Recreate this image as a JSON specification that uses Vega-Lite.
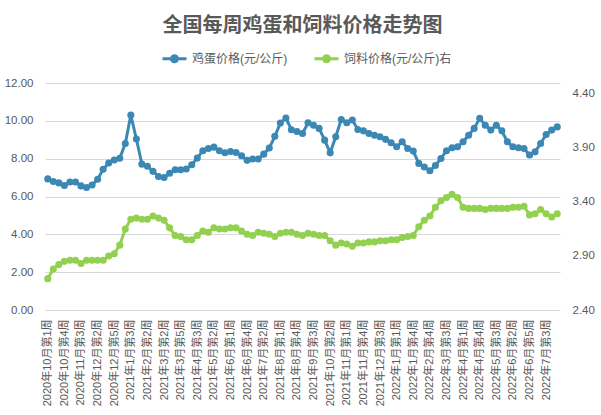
{
  "$schema": "https://vega.github.io/schema/vega-lite/v6.json",
  "width": 515,
  "height": 227,
  "autosize": "none",
  "padding": {"left": 45, "top": 83, "right": 41, "bottom": 105},
  "background": "white",
  "title": {"text": "全国每周鸡蛋和饲料价格走势图", "fontSize": 20, "fontWeight": "bold", "color": "#595959", "font": "Noto Sans CJK SC", "anchor": "middle", "offset": 9},
  "data": {"values": [
    {"w": "2020年10月第1周", "egg": 6.93, "feed": 2.69},
    {"w": "2020年10月第2周", "egg": 6.79, "feed": 2.78},
    {"w": "2020年10月第3周", "egg": 6.72, "feed": 2.82},
    {"w": "2020年10月第4周", "egg": 6.58, "feed": 2.85},
    {"w": "2020年11月第1周", "egg": 6.77, "feed": 2.86},
    {"w": "2020年11月第2周", "egg": 6.77, "feed": 2.86},
    {"w": "2020年11月第3周", "egg": 6.56, "feed": 2.83},
    {"w": "2020年11月第4周", "egg": 6.48, "feed": 2.86},
    {"w": "2020年12月第1周", "egg": 6.61, "feed": 2.86},
    {"w": "2020年12月第2周", "egg": 6.91, "feed": 2.86},
    {"w": "2020年12月第3周", "egg": 7.44, "feed": 2.86},
    {"w": "2020年12月第4周", "egg": 7.77, "feed": 2.90},
    {"w": "2020年12月第5周", "egg": 7.93, "feed": 2.92},
    {"w": "2021年1月第1周", "egg": 8.02, "feed": 3.00},
    {"w": "2021年1月第2周", "egg": 8.80, "feed": 3.15},
    {"w": "2021年1月第3周", "egg": 10.31, "feed": 3.24},
    {"w": "2021年1月第4周", "egg": 9.04, "feed": 3.25},
    {"w": "2021年2月第1周", "egg": 7.71, "feed": 3.24},
    {"w": "2021年2月第2周", "egg": 7.60, "feed": 3.24},
    {"w": "2021年2月第4周", "egg": 7.33, "feed": 3.27},
    {"w": "2021年3月第1周", "egg": 7.06, "feed": 3.25},
    {"w": "2021年3月第2周", "egg": 7.00, "feed": 3.23},
    {"w": "2021年3月第3周", "egg": 7.23, "feed": 3.16},
    {"w": "2021年3月第4周", "egg": 7.41, "feed": 3.09},
    {"w": "2021年3月第5周", "egg": 7.41, "feed": 3.08},
    {"w": "2021年4月第1周", "egg": 7.45, "feed": 3.05},
    {"w": "2021年4月第2周", "egg": 7.68, "feed": 3.05},
    {"w": "2021年4月第3周", "egg": 8.03, "feed": 3.09},
    {"w": "2021年4月第4周", "egg": 8.42, "feed": 3.13},
    {"w": "2021年5月第1周", "egg": 8.54, "feed": 3.12},
    {"w": "2021年5月第2周", "egg": 8.61, "feed": 3.16},
    {"w": "2021年5月第3周", "egg": 8.42, "feed": 3.15},
    {"w": "2021年5月第4周", "egg": 8.31, "feed": 3.15},
    {"w": "2021年6月第1周", "egg": 8.38, "feed": 3.16},
    {"w": "2021年6月第2周", "egg": 8.33, "feed": 3.16},
    {"w": "2021年6月第3周", "egg": 8.15, "feed": 3.13},
    {"w": "2021年6月第4周", "egg": 7.91, "feed": 3.10},
    {"w": "2021年6月第5周", "egg": 7.98, "feed": 3.09},
    {"w": "2021年7月第1周", "egg": 7.98, "feed": 3.12},
    {"w": "2021年7月第2周", "egg": 8.24, "feed": 3.11},
    {"w": "2021年7月第3周", "egg": 8.56, "feed": 3.10},
    {"w": "2021年7月第4周", "egg": 9.18, "feed": 3.08},
    {"w": "2021年8月第1周", "egg": 9.88, "feed": 3.11},
    {"w": "2021年8月第2周", "egg": 10.15, "feed": 3.12},
    {"w": "2021年8月第3周", "egg": 9.53, "feed": 3.12},
    {"w": "2021年8月第4周", "egg": 9.44, "feed": 3.10},
    {"w": "2021年9月第1周", "egg": 9.33, "feed": 3.09},
    {"w": "2021年9月第2周", "egg": 9.90, "feed": 3.11},
    {"w": "2021年9月第3周", "egg": 9.77, "feed": 3.10},
    {"w": "2021年9月第4周", "egg": 9.60, "feed": 3.09},
    {"w": "2021年10月第1周", "egg": 8.98, "feed": 3.09},
    {"w": "2021年10月第2周", "egg": 8.31, "feed": 3.04},
    {"w": "2021年10月第3周", "egg": 9.16, "feed": 3.00},
    {"w": "2021年10月第4周", "egg": 10.07, "feed": 3.02},
    {"w": "2021年11月第1周", "egg": 9.90, "feed": 3.01},
    {"w": "2021年11月第2周", "egg": 10.04, "feed": 2.99},
    {"w": "2021年11月第3周", "egg": 9.54, "feed": 3.02},
    {"w": "2021年11月第4周", "egg": 9.47, "feed": 3.02},
    {"w": "2021年12月第1周", "egg": 9.33, "feed": 3.03},
    {"w": "2021年12月第2周", "egg": 9.24, "feed": 3.03},
    {"w": "2021年12月第3周", "egg": 9.16, "feed": 3.04},
    {"w": "2021年12月第4周", "egg": 9.02, "feed": 3.04},
    {"w": "2021年12月第5周", "egg": 8.84, "feed": 3.05},
    {"w": "2022年1月第1周", "egg": 8.63, "feed": 3.05},
    {"w": "2022年1月第2周", "egg": 8.89, "feed": 3.07},
    {"w": "2022年1月第3周", "egg": 8.54, "feed": 3.08},
    {"w": "2022年1月第4周", "egg": 8.40, "feed": 3.09},
    {"w": "2022年2月第2周", "egg": 7.75, "feed": 3.17},
    {"w": "2022年2月第3周", "egg": 7.56, "feed": 3.23},
    {"w": "2022年2月第4周", "egg": 7.36, "feed": 3.27},
    {"w": "2022年3月第1周", "egg": 7.64, "feed": 3.35},
    {"w": "2022年3月第2周", "egg": 8.01, "feed": 3.41},
    {"w": "2022年3月第3周", "egg": 8.42, "feed": 3.44},
    {"w": "2022年3月第4周", "egg": 8.58, "feed": 3.47},
    {"w": "2022年3月第5周", "egg": 8.63, "feed": 3.44},
    {"w": "2022年4月第1周", "egg": 8.89, "feed": 3.35},
    {"w": "2022年4月第2周", "egg": 9.24, "feed": 3.34},
    {"w": "2022年4月第3周", "egg": 9.60, "feed": 3.34},
    {"w": "2022年4月第4周", "egg": 10.13, "feed": 3.34},
    {"w": "2022年5月第1周", "egg": 9.77, "feed": 3.33},
    {"w": "2022年5月第2周", "egg": 9.51, "feed": 3.34},
    {"w": "2022年5月第3周", "egg": 9.77, "feed": 3.34},
    {"w": "2022年5月第4周", "egg": 9.47, "feed": 3.34},
    {"w": "2022年6月第1周", "egg": 8.89, "feed": 3.34},
    {"w": "2022年6月第2周", "egg": 8.63, "feed": 3.35},
    {"w": "2022年6月第3周", "egg": 8.58, "feed": 3.35},
    {"w": "2022年6月第4周", "egg": 8.54, "feed": 3.36},
    {"w": "2022年6月第5周", "egg": 8.19, "feed": 3.28},
    {"w": "2022年7月第1周", "egg": 8.36, "feed": 3.29},
    {"w": "2022年7月第2周", "egg": 8.80, "feed": 3.33},
    {"w": "2022年7月第3周", "egg": 9.28, "feed": 3.29},
    {"w": "2022年7月第4周", "egg": 9.51, "feed": 3.26},
    {"w": "2022年8月第1周", "egg": 9.68, "feed": 3.29}
  ]},
  "encoding": {
    "x": {
      "field": "w", "type": "ordinal", "sort": null,
      "scale": {"padding": 0.5},
      "axis": {
        "title": null, "labelAngle": -90, "domain": false, "ticks": false, "grid": false,
        "labelPadding": 9, "labelFontSize": 11, "labelColor": "#595959",
        "values": ["2020年10月第1周","2020年10月第4周","2020年11月第3周","2020年12月第2周","2020年12月第5周","2021年1月第3周","2021年2月第2周","2021年3月第2周","2021年3月第5周","2021年4月第3周","2021年5月第2周","2021年6月第1周","2021年6月第4周","2021年7月第2周","2021年8月第1周","2021年8月第4周","2021年9月第3周","2021年10月第2周","2021年11月第1周","2021年11月第4周","2021年12月第3周","2022年1月第1周","2022年1月第4周","2022年2月第4周","2022年3月第3周","2022年4月第1周","2022年4月第4周","2022年5月第3周","2022年6月第2周","2022年6月第5周","2022年7月第3周"]
      }
    }
  },
  "layer": [
    {
      "mark": {"type": "line", "strokeWidth": 3, "point": {"filled": true, "size": 50, "opacity": 1}},
      "encoding": {
        "y": {
          "field": "egg", "type": "quantitative",
          "scale": {"domain": [0, 12], "nice": false, "zero": false},
          "axis": {"title": null, "values": [0, 2, 4, 6, 8, 10, 12], "format": ".2f", "grid": true, "gridColor": "#d9d9d9", "domain": false, "ticks": false, "labelPadding": 12, "labelFontSize": 11.5, "labelColor": "#595959"}
        },
        "color": {
          "datum": "鸡蛋价格(元/公斤)",
          "scale": {"domain": ["鸡蛋价格(元/公斤)", "饲料价格(元/公斤)右"], "range": ["#3b88b5", "#92d050"]},
          "legend": {
            "title": null, "orient": "none", "legendX": 116, "legendY": -38, "direction": "horizontal",
            "symbolType": "M-1,0L1,0M-0.25,0a0.25,0.25 0 1,0 0.5,0a0.25,0.25 0 1,0 -0.5,0",
            "symbolSize": 576, "symbolStrokeWidth": 3, "labelFontSize": 12, "labelColor": "#595959",
            "columnPadding": 20, "labelOffset": 4,
            "encode": {"symbols": {"update": {"fill": {"scale": "color", "field": "value"}, "stroke": {"scale": "color", "field": "value"}, "opacity": {"value": 1}}}}
          }
        }
      }
    },
    {
      "mark": {"type": "line", "strokeWidth": 3, "point": {"filled": true, "size": 50, "opacity": 1}},
      "encoding": {
        "y": {
          "field": "feed", "type": "quantitative",
          "scale": {"domain": [2.4, 4.5], "nice": false, "zero": false},
          "axis": {"title": null, "orient": "right", "values": [2.4, 2.9, 3.4, 3.9, 4.4], "format": ".2f", "grid": false, "domain": false, "ticks": false, "labelPadding": 12, "labelFontSize": 11.5, "labelColor": "#595959"}
        },
        "color": {"datum": "饲料价格(元/公斤)右"}
      }
    }
  ],
  "resolve": {"scale": {"y": "independent"}},
  "config": {
    "view": {"stroke": null},
    "font": "Liberation Sans, Noto Sans CJK SC"
  }
}
